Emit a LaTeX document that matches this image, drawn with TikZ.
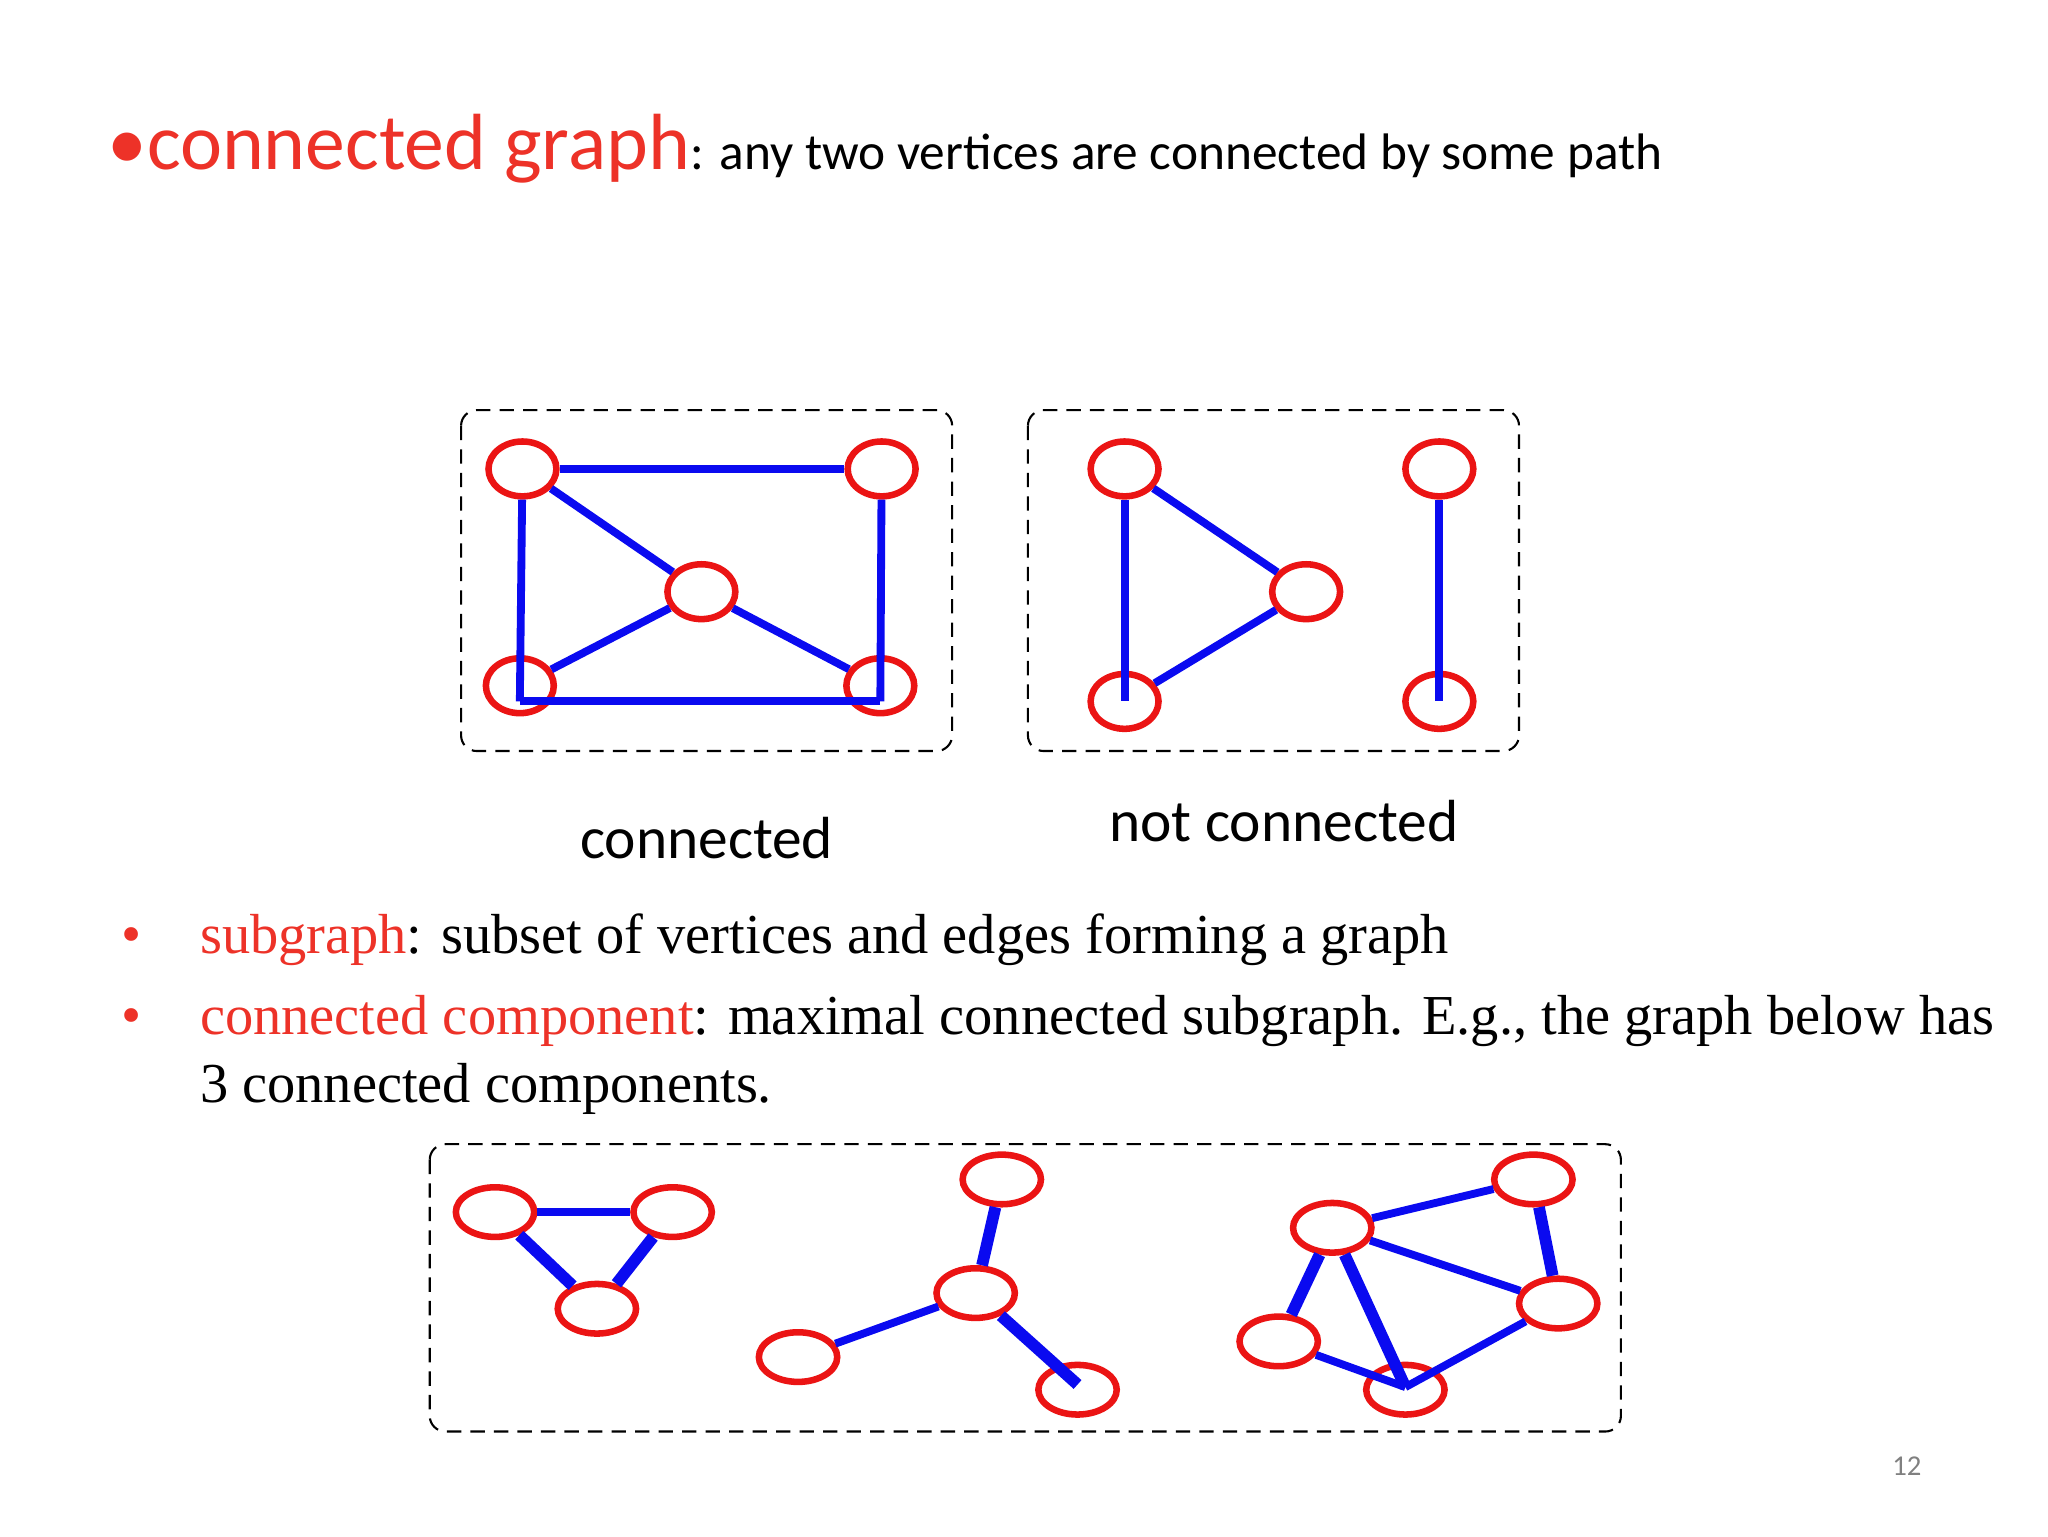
\documentclass[tikz,border=0pt]{standalone}
\usepackage{fontspec}
\setmainfont{Liberation Serif}
\newfontfamily\calib{Carlito}
\usetikzlibrary{shapes.geometric}
\definecolor{vred}{RGB}{235,20,20}
\definecolor{tred}{RGB}{237,50,40}
\definecolor{eblue}{RGB}{10,10,240}
\tikzset{
 vtx/.style={ellipse,draw=vred,line width=5pt,minimum width=52pt,minimum height=42pt,inner sep=0pt},
 vtxb/.style={ellipse,draw=vred,line width=5pt,minimum width=60pt,minimum height=38pt,inner sep=0pt},
 edg/.style={draw=eblue,line width=6pt},
 edgt/.style={draw=eblue,line width=9pt},
 frame/.style={draw=black,line width=1.6pt,dash pattern=on 11pt off 7pt,rounded corners=12pt},
 lbl/.style={anchor=base,inner sep=0pt,font=\calib\fontsize{45.5}{50}\selectfont},
 btxt/.style={anchor=base west,inner sep=0pt,font=\fontsize{43.2}{50}\selectfont},
 bdot/.style={anchor=base,text=tred,inner sep=0pt,font=\fontsize{44}{44}\selectfont}
}
\begin{document}
\begin{tikzpicture}[x=1pt,y=-1pt]
\useasboundingbox[fill=white] (0,0) rectangle (1568,1176);
% title
\node[anchor=base west,inner sep=0pt,text=tred,font=\calib\fontsize{61}{64}\selectfont] (t1) at (82,130) {\textbullet connected graph};
\node[anchor=base west,inner sep=0pt,font=\calib\fontsize{39.3}{44}\selectfont] (t2) at (t1.base east) {: any two vertices are connected by some path};
% box 1
\draw[frame] (353,314) rectangle (729,575);
\node[vtx] (a1) at (400,359) {};
\node[vtx] (a2) at (675,359) {};
\node[vtx] (a3) at (537,453) {};
\node[vtx] (a4) at (398,525) {};
\node[vtx] (a5) at (674,525) {};
\coordinate (a4b) at (398,537); \coordinate (a5b) at (674,537);
\draw[edg] (a1) -- (a2);
\draw[edg] (a1) -- (a3);
\draw[edg] (a3) -- (a4);
\draw[edg] (a3) -- (a5);
\draw[edg] (a1) -- (a4b);
\draw[edg] (a2) -- (a5b);
\draw[edg] (a4b) -- (a5b);
\node[lbl] (l1) at (541,657) {connected};
% box 2
\draw[frame] (787,314) rectangle (1163,575);
\node[vtx] (b1) at (861,359) {};
\node[vtx] (b2) at (1000,453) {};
\node[vtx] (b3) at (861,537) {};
\node[vtx] (b4) at (1102,359) {};
\node[vtx] (b5) at (1102,537) {};
\draw[edg] (b1) -- (b3.center);
\draw[edg] (b1) -- (b2);
\draw[edg] (b2) -- (b3);
\draw[edg] (b4) -- (b5.center);
\node[lbl] (l2) at (983,644) {not connected};
% bullets
\node[bdot] (d1) at (101,730) {\textbullet};
\node[btxt] (s1) at (153,730) {\textcolor{tred}{subgraph}: subset of vertices and edges forming a graph};
\node[bdot] (d2) at (101,792) {\textbullet};
\node[btxt] (s2) at (153,792) {\textcolor{tred}{connected component}: maximal connected subgraph. E.g., the graph below has};
\node[btxt] (s3) at (153,844) {3 connected components.};
% box 3
\draw[frame] (329,876) rectangle (1241,1096);
\node[vtxb] (c1) at (379,928) {};
\node[vtxb] (c2) at (515,928) {};
\node[vtxb] (c3) at (457,1002) {};
\node[vtxb] (d1v) at (767,903) {};
\node[vtxb] (d2v) at (747,990) {};
\node[vtxb] (d3v) at (611,1039) {};
\node[vtxb] (d4v) at (825,1064) {};
\node[vtxb] (e1) at (1020,940) {};
\node[vtxb] (e2) at (1174,903) {};
\node[vtxb] (e3) at (1193,998) {};
\node[vtxb] (e4) at (979,1027) {};
\node[vtxb] (e5) at (1076,1064) {};
\coordinate (e5c) at (1076,1062);
\coordinate (d4c) at (825,1060);
\draw[edg] (c1) -- (c2);
\draw[edgt] (c1) -- (c3);
\draw[edgt] (c2) -- (c3);
\draw[edgt] (d1v) -- (d2v);
\draw[edg] (d2v) -- (d3v);
\draw[edgt] (d2v) -- (d4c);
\draw[edg] (e1) -- (e2);
\draw[edg] (e1) -- (e3);
\draw[edgt] (e2) -- (e3);
\draw[edgt] (e1) -- (e4);
\draw[edgt] (e1) -- (e5c);
\draw[edg] (e4) -- (e5c);
\draw[edg] (e3) -- (e5c);
\node[anchor=base,inner sep=0pt,text=gray,font=\calib\fontsize{22}{24}\selectfont] (pg) at (1460,1130) {12};
\end{tikzpicture}
\end{document}
